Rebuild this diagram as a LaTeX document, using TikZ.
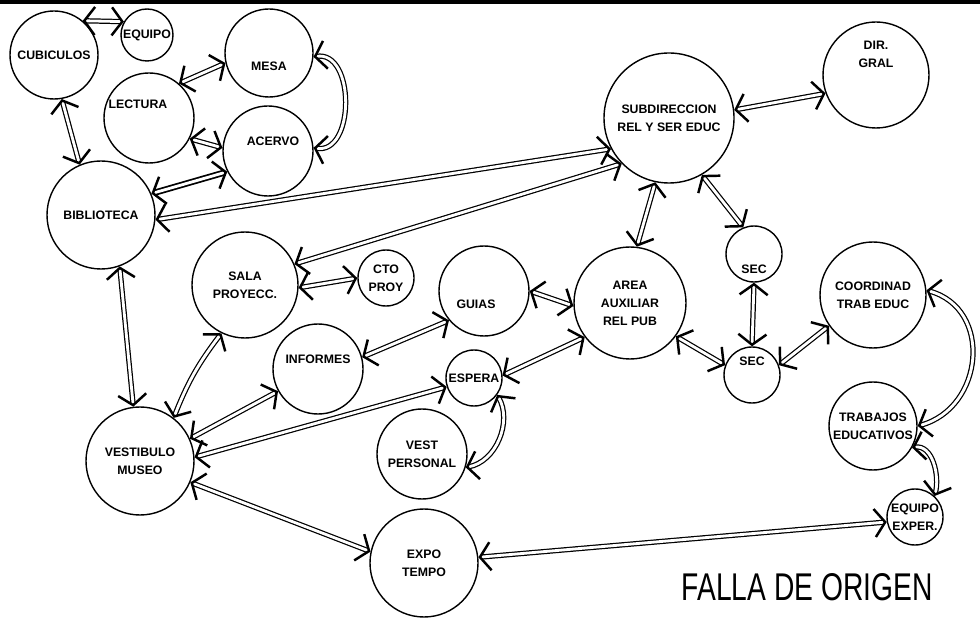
\documentclass[tikz,border=0pt]{standalone}
\usepackage{fontspec}
\setmainfont{Liberation Sans}
\usetikzlibrary{arrows.meta}

\begin{document}
\begin{tikzpicture}[x=0.2mm, y=-0.2mm,
		font=\bfseries\fontsize{7}{10.2}\selectfont,
		bub/.style={draw, circle, line width=0.8pt, inner sep=0pt, align=center, minimum size=#1*0.4mm},
		lbl/.style={align=center, inner sep=0pt},
		tip/.tip={Straight Barb[length=6pt,width=16pt,line width=1.4pt]},
		link/.style={every edge/.style={draw, tip-tip, double, double distance=1.6pt, line width=0.7pt}},
	]
		\useasboundingbox (0,0) rectangle (980,619);
		\fill (0,0) rectangle (980,4);

		% biblioteca side
		\node[bub=44] (cub) at (54,55) {CUBICULOS};
		\node[bub=26] (equipo) at (147,35) {EQUIPO};
		\node[bub=44, label={[lbl,yshift=-2.6mm]center:MESA}] (mesa) at (269,53) {};
		\node[bub=45, label={[lbl,xshift=-2.2mm,yshift=2.8mm]center:LECTURA}] (lect) at (149,118) {};
		\node[bub=45, label={[lbl,xshift=1mm,yshift=2mm]center:ACERVO}] (acervo) at (268,151) {};
		\node[bub=54] (bibl) at (101,215) {BIBLIOTECA};

		% museo side
		\node[bub=53] (sala) at (245,285) {SALA\\PROYECC.};
		\node[bub=28] (cto) at (386,278) {CTO\\PROY};
		\node[bub=45, label={[lbl,xshift=-1.6mm,yshift=-2.6mm]center:GUIAS}] (guias) at (484,291) {};
		\node[bub=45, label={[lbl,yshift=2mm]center:INFORMES}] (inf) at (318,369) {};
		\node[bub=28] (espera) at (474,378) {ESPERA};
		\node[bub=54] (vest) at (140,461) {VESTIBULO\\MUSEO};
		\node[bub=45] (vpers) at (422,454) {VEST\\PERSONAL};
		\node[bub=54] (expo) at (424,563) {EXPO\\TEMPO};

		% subdireccion side
		\node[bub=56] (area) at (630,303) {AREA\\AUXILIAR\\REL PUB};
		\node[bub=65] (subdir) at (669,118) {SUBDIRECCION\\REL Y SER EDUC};
		\node[bub=53, label={[lbl,yshift=4.2mm]center:DIR.\\GRAL}] (dir) at (876,75) {};
		\node[bub=28, label={[lbl,yshift=-3mm]center:SEC}] (secA) at (754,254) {};
		\node[bub=28, label={[lbl,yshift=2.8mm]center:SEC}] (secB) at (752,375) {};
		\node[bub=53] (coord) at (873,295) {COORDINAD\\TRAB EDUC};
		\node[bub=44] (trab) at (873,426) {TRABAJOS\\EDUCATIVOS};
		\node[bub=28] (eqexp) at (915,517) {EQUIPO\\EXPER.};

		\node[font=\mdseries\fontsize{22}{22}\selectfont] (falla) at (807,587)
			{\scalebox{0.73}[1]{FALLA DE ORIGEN}};

		\path[link]
			(cub.50) edge (equipo.150)
			(cub.-80) edge (bibl.113)
			(lect.49) edge (mesa.193)
			(lect.-27) edge (acervo.176)
			(mesa.-5) edge[out=10, in=-10, looseness=1.2] (acervo.4)
		;
		\path[link]
			(bibl.23) edge[line width=1pt] (acervo.207)
			(bibl.-5) edge (subdir.208)
			(bibl.-70) edge (vest.97)
			(sala.23) edge (subdir.224)
			(sala.-3) edge (cto.180)
		;
		\path[link]
			(vest.52) edge[bend left=8] (sala.244)
			(vest.24) edge (inf.209)
			(vest.4) edge (espera.198)
			(vest.-23) edge (expo.168)
			(inf.15) edge (guias.220)
			(guias.0) edge (area.183)
			(espera.5) edge (area.217)
			(espera.-36) edge[out=-60, in=10] (vpers.-17)
			(expo.6) edge (eqexp.190)
		;
		\path[link]
			(area.83) edge (subdir.258)
			(subdir.-60) edge (secA.112)
			(subdir.7) edge (dir.200)
			(secA.-90) edge (secB.90)
			(area.-36) edge (secB.160)
			(secB.20) edge (coord.215)
			(coord.5) edge[out=-15, in=15, looseness=1.3] (trab.0)
			(trab.-29) edge[out=10, in=75] (eqexp.47)
		;
	\end{tikzpicture}
\end{document}
